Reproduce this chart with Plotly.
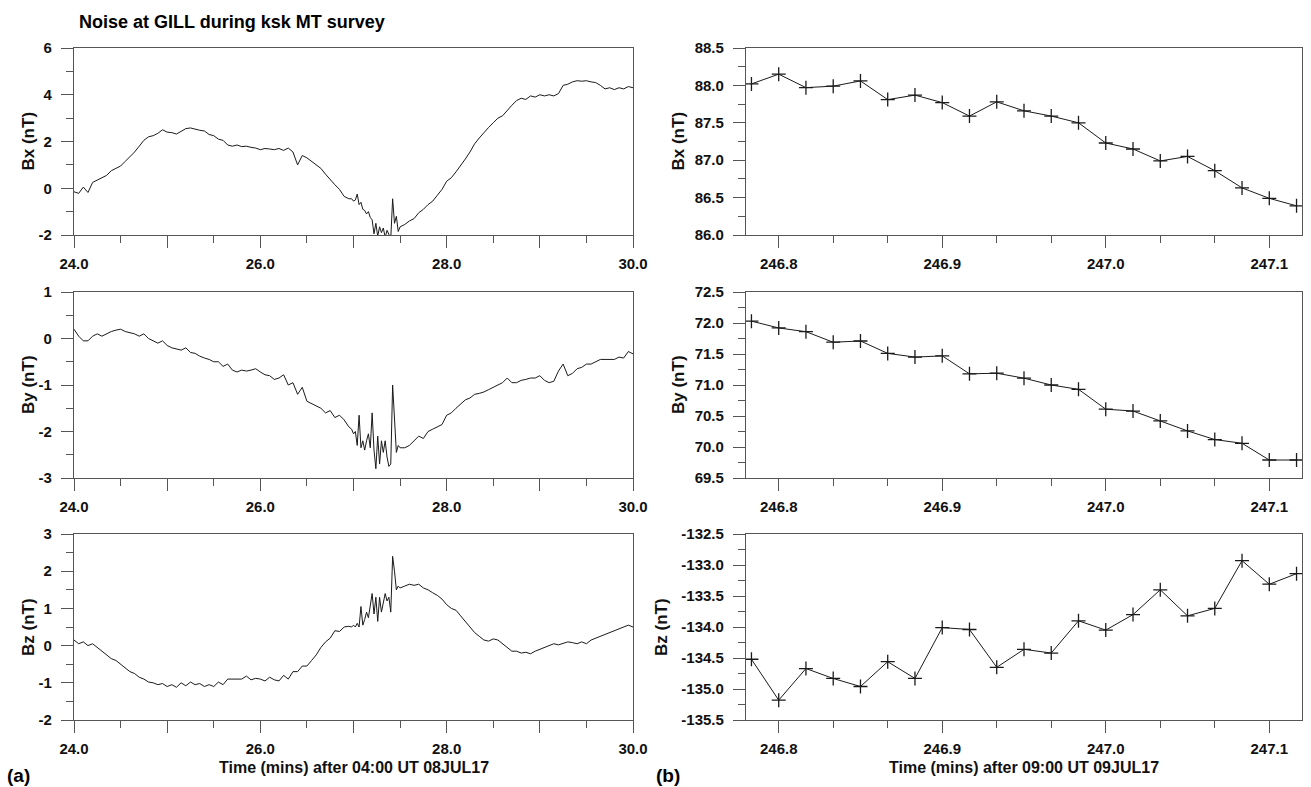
import numpy as np
import plotly.graph_objects as go

# ---------------- DATA ----------------
# left column: sampling times (mins after 04:00 UT 08JUL17)
t_coarse1 = np.round(np.arange(24.00, 26.951, 0.05), 3).tolist()   # 60 samples
t_fine = np.round(np.arange(26.98, 27.501, 0.02), 3).tolist()      # 27 samples
t_coarse2 = np.round(np.arange(27.55, 30.001, 0.05), 3).tolist()   # 50 samples
t_left = t_coarse1 + t_fine + t_coarse2

bx_left = [
    -0.15, -0.22, 0.05, -0.18, 0.25, 0.35, 0.45, 0.55, 0.75, 0.85,
    0.95, 1.15, 1.35, 1.55, 1.80, 2.05, 2.20, 2.25, 2.35, 2.50,
    2.40, 2.38, 2.32, 2.45, 2.55, 2.58, 2.52, 2.48, 2.45, 2.30,
    2.25, 2.10, 2.05, 1.85, 1.80, 1.85, 1.78, 1.80, 1.75, 1.72,
    1.65, 1.70, 1.68, 1.65, 1.70, 1.62, 1.72, 1.55, 1.00, 1.40,
    1.30, 1.15, 1.00, 0.85, 0.60, 0.35, 0.15, -0.05, -0.35, -0.45,
    -0.45, -0.55, -0.50, -0.25, -0.70, -0.60, -0.90, -0.95, -1.10, -1.00,
    -1.25, -1.35, -1.95, -1.50, -2.05, -1.65, -1.90, -1.70, -2.10, -1.80,
    -2.00, -2.15, -0.45, -1.50, -1.20, -1.85, -1.65,
    -1.55, -1.40, -1.30, -1.05, -0.90, -0.70, -0.55, -0.30, -0.05, 0.30,
    0.45, 0.70, 0.95, 1.25, 1.55, 1.90, 2.15, 2.40, 2.60, 2.80,
    3.00, 3.10, 3.35, 3.55, 3.75, 3.85, 3.80, 3.95, 3.90, 4.00,
    3.95, 4.00, 3.95, 4.05, 4.40, 4.45, 4.55, 4.60, 4.58, 4.60,
    4.55, 4.52, 4.40, 4.25, 4.30, 4.22, 4.30, 4.25, 4.35, 4.30,
]

by_left = [
    0.20, 0.05, -0.05, -0.05, 0.05, 0.10, 0.05, 0.10, 0.15, 0.18,
    0.20, 0.15, 0.12, 0.10, 0.05, 0.10, 0.00, -0.05, -0.10, -0.05,
    -0.15, -0.20, -0.22, -0.25, -0.20, -0.30, -0.32, -0.38, -0.42, -0.45,
    -0.50, -0.50, -0.60, -0.55, -0.68, -0.72, -0.68, -0.70, -0.68, -0.65,
    -0.72, -0.78, -0.80, -0.88, -0.85, -0.78, -1.00, -0.95, -1.20, -1.05,
    -1.35, -1.40, -1.45, -1.50, -1.60, -1.55, -1.70, -1.65, -1.75, -1.90,
    -1.95, -2.05, -2.00, -2.30, -1.65, -2.35, -2.20, -2.40, -2.20, -2.05,
    -2.35, -1.60, -2.40, -2.80, -2.10, -2.70, -2.20, -2.45, -2.20, -2.55,
    -2.75, -2.70, -1.00, -1.65, -2.45, -2.30, -2.35,
    -2.35, -2.30, -2.20, -2.10, -2.15, -2.00, -1.95, -1.90, -1.85, -1.65,
    -1.60, -1.50, -1.42, -1.32, -1.28, -1.20, -1.18, -1.15, -1.10, -1.05,
    -1.00, -0.95, -0.85, -0.95, -0.95, -0.90, -0.88, -0.85, -0.85, -0.80,
    -0.90, -0.95, -0.92, -0.70, -0.55, -0.80, -0.75, -0.65, -0.62, -0.55,
    -0.55, -0.50, -0.45, -0.45, -0.45, -0.45, -0.40, -0.42, -0.28, -0.33,
]

bz_left = [
    0.15, 0.05, 0.10, 0.00, 0.05, -0.05, -0.15, -0.25, -0.35, -0.40,
    -0.50, -0.60, -0.70, -0.75, -0.85, -0.90, -0.98, -1.00, -1.05, -1.02,
    -1.10, -1.05, -1.12, -1.00, -1.08, -0.98, -1.05, -1.02, -1.10, -1.05,
    -1.10, -0.98, -1.05, -0.90, -0.90, -0.88, -0.90, -0.82, -0.92, -0.88,
    -0.90, -0.95, -0.85, -0.92, -0.95, -0.80, -0.90, -0.70, -0.70, -0.55,
    -0.55, -0.40, -0.25, -0.05, 0.10, 0.20, 0.40, 0.38, 0.50, 0.52,
    0.50, 0.55, 0.50, 0.60, 0.50, 1.05, 0.55, 0.70, 0.90, 0.75,
    1.10, 1.40, 0.85, 1.30, 0.65, 1.30, 0.90, 1.15, 1.40, 1.20,
    1.30, 0.90, 2.40, 2.00, 1.50, 1.60, 1.55,
    1.60, 1.65, 1.62, 1.65, 1.55, 1.50, 1.42, 1.35, 1.25, 1.10,
    1.00, 0.95, 0.80, 0.65, 0.50, 0.35, 0.25, 0.15, 0.12, 0.18,
    0.15, 0.05, -0.05, -0.15, -0.15, -0.20, -0.18, -0.22, -0.15, -0.10,
    -0.05, 0.00, 0.05, 0.02, 0.05, 0.10, 0.08, 0.05, 0.10, 0.05,
    0.15, 0.20, 0.25, 0.30, 0.35, 0.40, 0.45, 0.50, 0.55, 0.50,
]

# right column: one sample per second (mins after 09:00 UT 09JUL17)
t_right = [round(246.78333 + k / 60.0, 5) for k in range(21)]
bx_right = [88.02, 88.15, 87.97, 87.99, 88.06, 87.81, 87.87, 87.77, 87.59, 87.78,
            87.66, 87.59, 87.50, 87.23, 87.15, 86.99, 87.05, 86.86, 86.63, 86.49, 86.39]
by_right = [72.03, 71.92, 71.86, 71.69, 71.71, 71.51, 71.45, 71.47, 71.18, 71.19,
            71.11, 71.00, 70.93, 70.61, 70.58, 70.42, 70.26, 70.12, 70.06, 69.79, 69.79]
bz_right = [-134.52, -135.18, -134.67, -134.83, -134.96, -134.56, -134.83, -134.01, -134.04, -134.65,
            -134.36, -134.42, -133.90, -134.05, -133.80, -133.40, -133.82, -133.70, -132.93, -133.31, -133.14]

left_ticks = [24, 25, 26, 27, 28, 29, 30]
left_ticktext = ["24.0", "", "26.0", "", "28.0", "", "30.0"]
right_ticks = [246.8, 246.9, 247.0, 247.1]
right_ticktext = ["246.8", "246.9", "247.0", "247.1"]

# ---------------- STYLE ----------------
W, H = 1311, 787
FONT = "Liberation Sans, Arial, Helvetica, sans-serif"
LC = "#555555"
TC = "#111111"

def px_x(a, b):
    return [a / W, b / W]

def px_y(top, bot):
    return [1 - bot / H, 1 - top / H]

XL = px_x(74, 633)
XR = px_x(746, 1302)
YD = [px_y(48, 235), px_y(292, 478), px_y(534, 720)]

fig = go.Figure()

panels = [
    (t_left, bx_left, XL, YD[0], [24, 30], [-2, 6], [-2, 0, 2, 4, 6], [-1, 1, 3, 5], "L", "Bx (nT)", 28),
    (t_left, by_left, XL, YD[1], [24, 30], [-3, 1], [-3, -2, -1, 0, 1], [-2.5, -1.5, -0.5, 0.5], "L", "By (nT)", 28),
    (t_left, bz_left, XL, YD[2], [24, 30], [-2, 3], [-2, -1, 0, 1, 2, 3], [-1.5, -0.5, 0.5, 1.5, 2.5], "L", "Bz (nT)", 28),
    (t_right, bx_right, XR, YD[0], [246.78, 247.12], [86.0, 88.5],
     [86.0, 86.5, 87.0, 87.5, 88.0, 88.5], [86.25, 86.75, 87.25, 87.75, 88.25], "R", "Bx (nT)", 678),
    (t_right, by_right, XR, YD[1], [246.78, 247.12], [69.5, 72.5],
     [69.5, 70.0, 70.5, 71.0, 71.5, 72.0, 72.5], [69.75, 70.25, 70.75, 71.25, 71.75, 72.25], "R", "By (nT)", 678),
    (t_right, bz_right, XR, YD[2], [246.78, 247.12], [-135.5, -132.5],
     [-135.5, -135.0, -134.5, -134.0, -133.5, -133.0, -132.5],
     [-135.25, -134.75, -134.25, -133.75, -133.25, -132.75], "R", "Bz (nT)", 661),
]

tickfont = dict(family=FONT, size=15, color=TC, weight="bold")
annotations = []

for i, (xs, ys, xd, yd, xr, yr, yt, ym, mode, ytitle, ytx) in enumerate(panels):
    n = i + 1
    sx = "" if n == 1 else str(n)
    xname, yname = "x" + sx, "y" + sx
    if mode == "L":
        tr = go.Scatter(x=xs, y=ys, mode="lines", line=dict(color="#1a1a1a", width=1),
                        xaxis=xname, yaxis=yname, hoverinfo="skip")
        xtv, xtt = left_ticks, left_ticktext
        xminor = [24.5, 25.5, 26.5, 27.5, 28.5, 29.5]
        xtop = [25, 26, 27, 28, 29]
    else:
        tr = go.Scatter(x=xs, y=ys, mode="lines+markers", line=dict(color="#1a1a1a", width=1),
                        marker=dict(symbol="cross-thin", size=10, line=dict(width=1.3, color="#1a1a1a")),
                        xaxis=xname, yaxis=yname, hoverinfo="skip")
        xtv, xtt = right_ticks, right_ticktext
        xminor = [round(246.8 + k / 30.0, 5) for k in range(-1, 11) if k % 3 != 0]
        xtop = [246.8, 246.85, 246.9, 246.95, 247.0, 247.05, 247.1]
    fig.add_trace(tr)

    ytext = [("%d" % v) if mode == "L" else ("%.1f" % v) for v in yt]

    fig.layout["xaxis" + sx] = dict(
        domain=xd, anchor=yname, range=xr, showline=True, linecolor=LC, linewidth=1.3,
        mirror=True, showgrid=False, zeroline=False, ticks="outside", tickcolor=LC,
        tickwidth=1.3, ticklen=12, tickmode="array", tickvals=xtv, ticktext=xtt,
        tickfont=tickfont, automargin=False, ticklabelstandoff=3,
        minor=dict(tickmode="array", tickvals=xminor, ticks="outside", ticklen=7,
                   tickcolor=LC, tickwidth=1.3, showgrid=False),
    )
    fig.layout["yaxis" + sx] = dict(
        domain=yd, anchor=xname, range=yr, showline=True, linecolor=LC, linewidth=1.3,
        mirror=True, showgrid=False, zeroline=False, ticks="outside", tickcolor=LC,
        tickwidth=1.3, ticklen=12, tickmode="array", tickvals=yt, ticktext=ytext,
        tickfont=tickfont, automargin=False, ticklabelstandoff=6,
        minor=dict(tickmode="array", tickvals=ym, ticks="outside", ticklen=7,
                   tickcolor=LC, tickwidth=1.3, showgrid=False),
    )
    # overlay axes carrying the inward ticks on the top and right frame edges
    m = n + 6
    fig.layout["xaxis" + str(m)] = dict(
        overlaying=xname, anchor=yname, side="top", range=xr, showline=False,
        showgrid=False, zeroline=False, ticks="inside", tickcolor=LC, tickwidth=1.3,
        ticklen=12, tickmode="array", tickvals=xtop, showticklabels=False, automargin=False,
    )
    fig.layout["yaxis" + str(m)] = dict(
        overlaying=yname, anchor=xname, side="right", range=yr, showline=False,
        showgrid=False, zeroline=False, ticks="inside", tickcolor=LC, tickwidth=1.3,
        ticklen=12, tickmode="array", tickvals=yt, showticklabels=False, automargin=False,
        minor=dict(tickmode="array", tickvals=ym, ticks="inside", ticklen=7,
                   tickcolor=LC, tickwidth=1.3, showgrid=False),
    )

    annotations.append(dict(
        text=ytitle, x=ytx / W, y=(yd[0] + yd[1]) / 2, xref="paper", yref="paper",
        xanchor="center", yanchor="middle", textangle=-90, showarrow=False,
        font=dict(family=FONT, size=17, color=TC, weight="bold"),
    ))

annotations += [
    dict(text="Noise at GILL during ksk MT survey", x=77 / W, y=1 - 22 / H, xref="paper", yref="paper",
         xanchor="left", yanchor="middle", showarrow=False,
         font=dict(family=FONT, size=18, color="#000", weight="bold")),
    dict(text="Time (mins) after 04:00 UT 08JUL17", x=(74 + 633) / 2 / W, y=1 - 767 / H,
         xref="paper", yref="paper", xanchor="center", yanchor="middle", showarrow=False,
         font=dict(family=FONT, size=16, color=TC, weight="bold")),
    dict(text="Time (mins) after 09:00 UT 09JUL17", x=(746 + 1302) / 2 / W, y=1 - 767 / H,
         xref="paper", yref="paper", xanchor="center", yanchor="middle", showarrow=False,
         font=dict(family=FONT, size=16, color=TC, weight="bold")),
    dict(text="(a)", x=5 / W, y=1 - 775 / H, xref="paper", yref="paper", xanchor="left",
         yanchor="middle", showarrow=False, font=dict(family=FONT, size=19, color="#000", weight="bold")),
    dict(text="(b)", x=654 / W, y=1 - 775 / H, xref="paper", yref="paper", xanchor="left",
         yanchor="middle", showarrow=False, font=dict(family=FONT, size=19, color="#000", weight="bold")),
]

fig.update_layout(
    width=W, height=H, margin=dict(l=0, r=0, t=0, b=0, pad=0, autoexpand=False),
    paper_bgcolor="white", plot_bgcolor="white", showlegend=False,
    annotations=annotations,
)

fig.write_html("out.html")
